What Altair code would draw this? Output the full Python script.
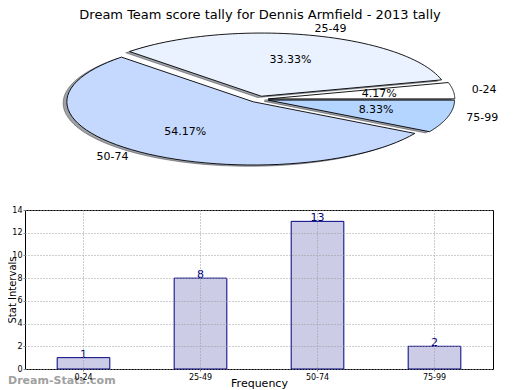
import altair as alt
import pandas as pd

# ---- data ----
categories = ["0-24", "25-49", "50-74", "75-99"]
counts = [1, 8, 13, 2]
slice_colors = ["#ffffff", "#eaf1ff", "#c5d9ff", "#b4d5ff"]
title_text = ["Dream Team score tally for Dennis Armfield - 2013 tally"]
y_ticks = [0, 2, 4, 6, 8, 10, 12, 14]
watermark = ["Dream-Stats.com"]

df = pd.DataFrame({"cat": categories, "count": counts,
                   "fill": slice_colors, "idx": list(range(len(categories)))})

FONT = "DejaVu Sans"

# ---- pie (elliptical, exploded, with shadow) ----
xs = alt.Scale(domain=[-1, 1], range=[47.5, 420.5], zero=False, nice=False)
ys = alt.Scale(domain=[-1, 1], range=[-47.5, -173.9], zero=False, nice=False)

pie_base = (
    alt.Chart(df)
    .transform_joinaggregate(total="sum(count)")
    .transform_window(cum="sum(count)", sort=[alt.SortField("idx")], frame=[None, 0])
    .transform_calculate(
        a1="2*PI*(datum.cum - datum.count)/datum.total",
        a2="2*PI*datum.cum/datum.total",
    )
    .transform_calculate(mid="(datum.a1 + datum.a2)/2")
    .transform_calculate(
        ox="0.05*cos(datum.mid)",
        oy="0.05*sin(datum.mid)",
        lx="1.15*cos(datum.mid)",
        ly="1.15*sin(datum.mid)",
        qx="0.65*cos(datum.mid)",
        qy="0.65*sin(datum.mid)",
        pct="format(100*datum.count/datum.total, '.2f') + '%'",
    )
)

poly = (
    pie_base.transform_calculate(k="sequence(0, 62)")
    .transform_flatten(["k"])
    .transform_calculate(
        ang="datum.a1 + (datum.a2 - datum.a1) * max(datum.k - 1, 0) / 60",
        r="datum.k == 0 ? 0 : 1",
    )
    .transform_calculate(
        px="datum.ox + datum.r*cos(datum.ang)",
        py="datum.oy + datum.r*sin(datum.ang)",
    )
    .transform_calculate(sx="datum.px - 0.02", sy="datum.py - 0.02")
)

shadow = poly.mark_line(
    interpolate="linear-closed", fill="#3f4450", fillOpacity=0.5,
    stroke="#3f4450", strokeOpacity=0.5, strokeWidth=1
).encode(
    x=alt.X("sx:Q", scale=xs, axis=None),
    y=alt.Y("sy:Q", scale=ys, axis=None),
    order=alt.Order("k:Q"),
    detail="cat:N",
)

slices = poly.mark_line(
    interpolate="linear-closed", stroke="black", strokeWidth=0.9
).encode(
    x=alt.X("px:Q", scale=xs, axis=None),
    y=alt.Y("py:Q", scale=ys, axis=None),
    order=alt.Order("k:Q"),
    detail="cat:N",
    fill=alt.Fill("fill:N", scale=None),
)

lab_right = pie_base.transform_filter("cos(datum.mid) >= 0").mark_text(
    align="left", baseline="middle", fontSize=11, font=FONT, color="black"
).encode(x=alt.X("lx:Q", scale=xs, axis=None), y=alt.Y("ly:Q", scale=ys, axis=None), text="cat:N")

lab_left = pie_base.transform_filter("cos(datum.mid) < 0").mark_text(
    align="right", baseline="middle", fontSize=11, font=FONT, color="black"
).encode(x=alt.X("lx:Q", scale=xs, axis=None), y=alt.Y("ly:Q", scale=ys, axis=None), text="cat:N")

pct = pie_base.mark_text(
    align="center", baseline="middle", fontSize=11, font=FONT, color="black"
).encode(x=alt.X("qx:Q", scale=xs, axis=None), y=alt.Y("qy:Q", scale=ys, axis=None), text="pct:N")

pie = alt.layer(shadow, slices, lab_right, lab_left, pct)

# ---- bars ----
xsc = alt.Scale(paddingInner=0.55, paddingOuter=0.275)
ysc = alt.Scale(domain=[0, 14], nice=False)
xaxis = alt.Axis(
    orient="bottom", title="Frequency", titleFontSize=11, titleFontWeight="normal",
    titleFont=FONT, titleX=234, titleY=17, titleBaseline="alphabetic", titleAlign="center",
    labelFontSize=8, labelFont=FONT, labelAngle=0, labelPadding=2, labelColor="black",
    ticks=True, tickSize=2, tickColor="#888888", domain=False, grid=True, gridDash=[1, 2],
    gridColor="#9a9a9a", gridWidth=1, bandPosition=0.5, zindex=1,
)
yaxis = alt.Axis(
    orient="left", values=y_ticks, title="Stat Intervals", titleFontSize=10,
    titleFontWeight="normal", titleFont=FONT, titleX=-10, titleY=79.5, titleAngle=270,
    titleBaseline="alphabetic", titleAlign="center",
    labelFontSize=8, labelFont=FONT, labelPadding=1, labelColor="black",
    labelOverlap=False, labelBound=False, labelFlush=False,
    ticks=True, tickSize=2, tickColor="#888888", domain=False, grid=True, gridDash=[1, 2],
    gridColor="#9a9a9a", gridWidth=1, zindex=1,
)
xband = alt.X("cat:N", sort=categories, scale=xsc, axis=xaxis)
yq = alt.Y("count:Q", scale=ysc, axis=yaxis)

bars = alt.Chart(df).mark_bar(fill="#cccce6", stroke="#000080", strokeWidth=1).encode(x=xband, y=yq)
bar_labels = alt.Chart(df).mark_text(
    baseline="alphabetic", fontSize=11, font=FONT, color="#000080", dy=0
).encode(x=xband, y=yq, text="count:Q")

wm = alt.Chart(pd.DataFrame({"t": watermark})).mark_text(
    align="left", baseline="alphabetic", fontSize=11, fontWeight="bold", font=FONT, color="#a0a0a0"
).encode(x=alt.value(-17), y=alt.value(174), text="t:N")

title = alt.Chart(pd.DataFrame({"t": title_text})).mark_text(
    align="center", baseline="alphabetic", fontSize=13, font=FONT, color="black"
).encode(x=alt.value(235), y=alt.value(-191), text="t:N")

bar_part = alt.layer(bars, bar_labels, wm, title)

chart = (
    alt.layer(bar_part, pie)
    .resolve_scale(x="independent", y="independent")
    .properties(
        width=468, height=159,
        view=alt.ViewBackground(stroke="black", strokeWidth=1),
        autosize=alt.AutoSizeParams(type="none"),
        padding={"left": 17, "top": 202, "right": 19, "bottom": 21},
    )
    .configure_view(stroke="black", strokeWidth=1)
    .configure(font=FONT)
)

chart.save("out.html", embed_options={"renderer": "svg", "actions": False})
